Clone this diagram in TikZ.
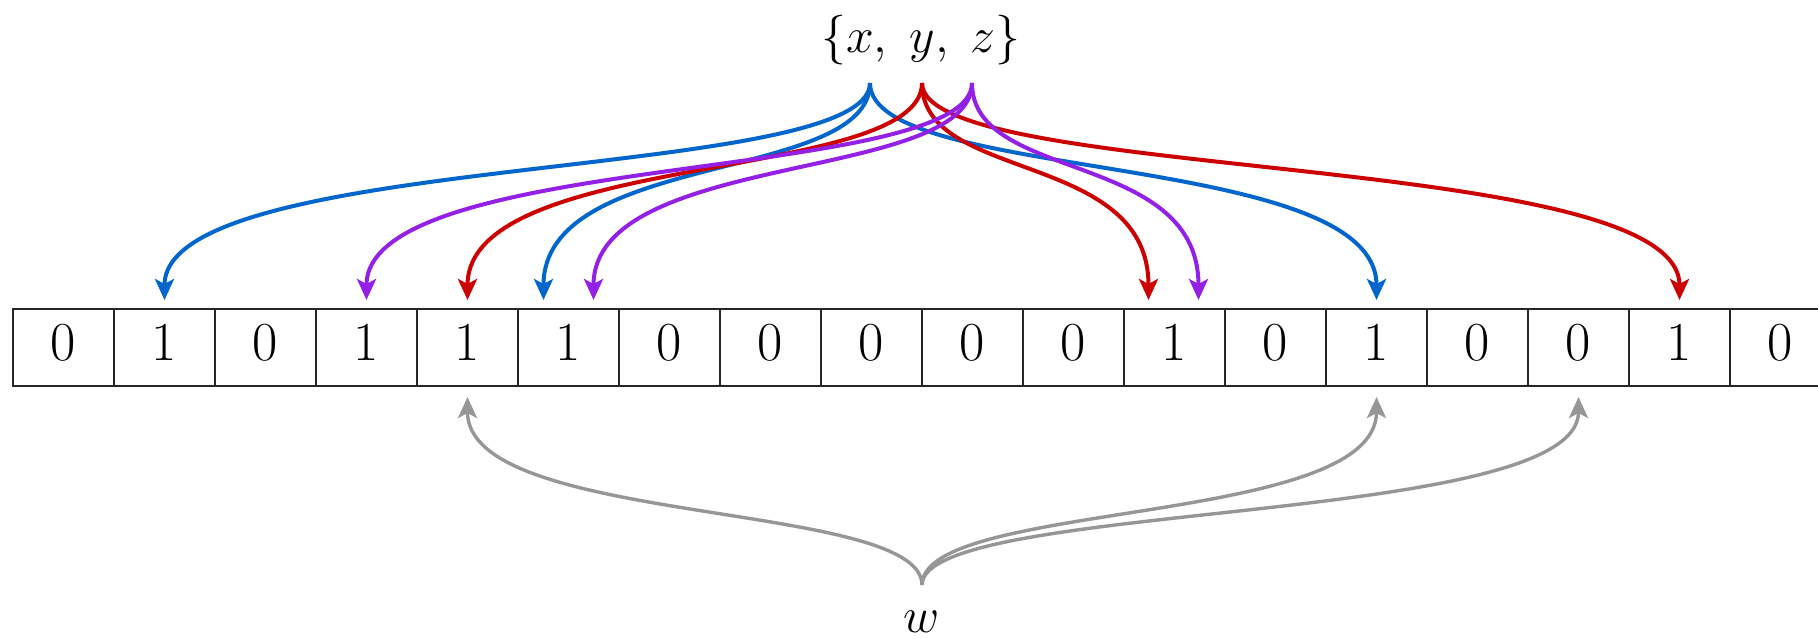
\documentclass[tikz,border=0pt]{standalone}
\usetikzlibrary{arrows.meta,calc}
\definecolor{cblue}{RGB}{0,102,204}
\definecolor{cred}{RGB}{204,0,0}
\definecolor{cpurple}{RGB}{148,32,230}
\definecolor{cgray}{RGB}{150,150,150}
\begin{document}
\begin{tikzpicture}[x=0.5pt,y=-0.5pt,
  cell/.style={draw=black!85, line width=1.4pt, minimum width=50.5pt, minimum height=38.5pt,
    inner sep=0pt, outer sep=0pt, text height=19pt, text depth=6.5pt,
    font=\fontsize{27.5}{33}\selectfont, anchor=north west},
  lbl/.style={inner sep=0pt, font=\fontsize{27}{32}\selectfont},
  link/.style={line width=2pt, -{Stealth[length=10.5pt,width=9.5pt,inset=2.5pt]}},
  glink/.style={line width=1.7pt, draw=cgray, -{Stealth[length=10.5pt,width=9.5pt,inset=2.5pt]}}]
\clip (0,0) rectangle (1818,638);
\fill[white] (0,0) rectangle (1818,638);
% cells
\foreach \v [count=\i from 0] in {0,1,0,1,1,1,0,0,0,0,0,1,0,1,0,0,1,0}
  \node[cell] (c\i) at ({13+101*\i},309) {\v};
% labels
\node[lbl] (xyz) at (921,40) {$\{x,\; y,\; z\}$};
\node[lbl, anchor=base] (w) at (922,632) {$w$};
% origins
\coordinate (ox) at (870,83);
\coordinate (oy) at (922,83);
\coordinate (oz) at (972,83);
\coordinate (ow) at (922,585);
% targets
\coordinate (tx1) at ($(c1.north)+(0,-9)$);
\coordinate (tx5) at ($(c5.north)+(-25,-9)$);
\coordinate (tx13) at ($(c13.north)+(0,-9)$);
\coordinate (ty4) at ($(c4.north)+(0,-9)$);
\coordinate (ty11) at ($(c11.north)+(-26,-9)$);
\coordinate (ty16) at ($(c16.north)+(0,-9)$);
\coordinate (tz3) at ($(c3.north)+(0,-9)$);
\coordinate (tz5) at ($(c5.north)+(25,-9)$);
\coordinate (tz11) at ($(c11.north)+(24,-9)$);
\coordinate (tw4) at ($(c4.south)+(0,11)$);
\coordinate (tw13) at ($(c13.south)+(0,11)$);
\coordinate (tw15) at ($(c15.south)+(0,11)$);
% top connectors
\draw[link,cblue] (ox) .. controls +(0,100) and +(0,-150) .. (tx1);
\draw[link,cblue] (ox) .. controls +(0,100) and +(0,-150) .. (tx5);
\draw[link,cblue] (ox) .. controls +(0,100) and +(0,-150) .. (tx13);
\draw[link,cred] (oy) .. controls +(0,100) and +(0,-150) .. (ty4);
\draw[link,cred] (oy) .. controls +(0,100) and +(0,-150) .. (ty11);
\draw[link,cred] (oy) .. controls +(0,100) and +(0,-150) .. (ty16);
\draw[link,cpurple] (oz) .. controls +(0,100) and +(0,-150) .. (tz3);
\draw[link,cpurple] (oz) .. controls +(0,100) and +(0,-150) .. (tz5);
\draw[link,cpurple] (oz) .. controls +(0,100) and +(0,-150) .. (tz11);
% bottom connectors
\draw[glink] (ow) .. controls +(0,-85) and +(0,130) .. (tw4);
\draw[glink] (ow) .. controls +(0,-85) and +(0,130) .. (tw13);
\draw[glink] (ow) .. controls +(0,-85) and +(0,130) .. (tw15);
\end{tikzpicture}
\end{document}
